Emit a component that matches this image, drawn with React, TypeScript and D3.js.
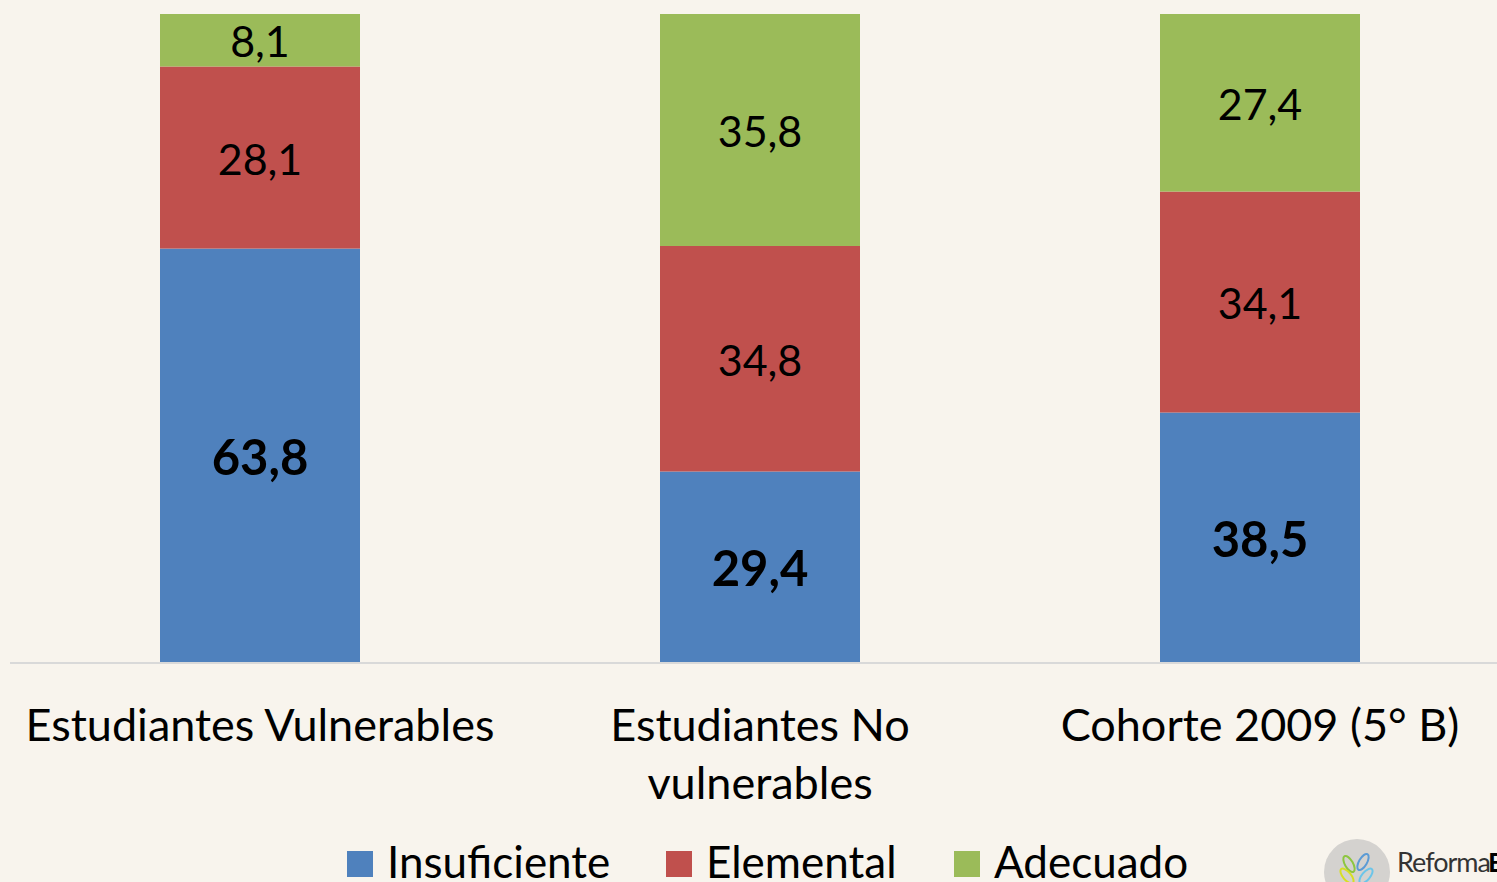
import { useEffect, useRef } from "react";
import * as d3 from "d3";

const categories = ["Estudiantes Vulnerables", "Estudiantes No vulnerables", "Cohorte 2009 (5° B)"];
const seriesNames = ["Insuficiente", "Elemental", "Adecuado"];
const insuficiente = [63.8, 29.4, 38.5];
const elemental = [28.1, 34.8, 34.1];
const adecuado = [8.1, 35.8, 27.4];
const colors = ["#4F81BD", "#C0504D", "#9BBB59"];

const FONT = "Lato, 'Open Sans', sans-serif";

export default function App() {
  const ref = useRef<SVGSVGElement>(null);

  useEffect(() => {
    document.body.style.margin = "0";
    if (!ref.current) return;
    const w = 1497,
      h = 882;
    const svg = d3.select(ref.current);
    svg.selectAll("*").remove();
    svg.attr("width", w).attr("height", h);

    svg.append("rect").attr("width", w).attr("height", h).attr("fill", "#F8F4ED");

    const rows = categories.map((c, i) => ({
      cat: c,
      Insuficiente: insuficiente[i],
      Elemental: elemental[i],
      Adecuado: adecuado[i],
    }));
    const stack = d3.stack<any>().keys(seriesNames)(rows);

    const x = d3.scaleBand().domain(categories).range([10, 1510]).paddingInner(0.6).paddingOuter(0.3);
    const y = d3.scaleLinear().domain([0, 100]).range([662, 14]);

    const g = svg.append("g");
    stack.forEach((layer, si) => {
      const lg = g.append("g");
      lg.selectAll("rect")
        .data(layer)
        .join("rect")
        .attr("x", (d: any) => x(d.data.cat)!)
        .attr("width", x.bandwidth())
        .attr("y", (d) => y(d[1]))
        .attr("height", (d) => y(d[0]) - y(d[1]))
        .attr("fill", colors[si]);
      lg.selectAll("text")
        .data(layer)
        .join("text")
        .attr("x", (d: any) => x(d.data.cat)! + x.bandwidth() / 2)
        .attr("y", (d) => (y(d[0]) + y(d[1])) / 2)
        .attr("dy", "0.4em")
        .attr("text-anchor", "middle")
        .attr("font-family", FONT)
        .attr("font-size", si === 0 ? 49 : 43)
        .attr("font-weight", si === 0 ? "bold" : "normal")
        .attr("fill", "#000")
        .text((d) => d3.format(".1f")(d[1] - d[0]).replace(".", ","));
    });

    // baseline
    svg.append("line")
      .attr("x1", 10).attr("x2", w)
      .attr("y1", y(0) + 1).attr("y2", y(0) + 1)
      .attr("stroke", "#D9D9D9").attr("stroke-width", 2);

    // category labels with wrapping
    categories.forEach((c) => {
      const cx = x(c)! + x.bandwidth() / 2;
      const t = svg.append("text")
        .attr("x", cx)
        .attr("y", 741)
        .attr("text-anchor", "middle")
        .attr("font-family", FONT)
        .attr("font-size", 45)
        .attr("fill", "#000");
      const words = c.split(" ");
      let line: string[] = [];
      let tspan = t.append("tspan").attr("x", cx).attr("dy", 0);
      words.forEach((word) => {
        line.push(word);
        tspan.text(line.join(" "));
        if ((tspan.node() as SVGTSpanElement).getComputedTextLength() > 480 && line.length > 1) {
          line.pop();
          tspan.text(line.join(" "));
          line = [word];
          tspan = t.append("tspan").attr("x", cx).attr("dy", 58).text(word);
        }
      });
    });

    // legend
    const legendX = [347, 666, 954];
    seriesNames.forEach((s, i) => {
      svg.append("rect")
        .attr("x", legendX[i]).attr("y", 851)
        .attr("width", 26).attr("height", 26)
        .attr("fill", colors[i]);
      svg.append("text")
        .attr("x", legendX[i] + 40).attr("y", 878)
        .attr("font-family", FONT)
        .attr("font-size", 44)
        .attr("fill", "#000")
        .text(s);
    });

    // logo
    const logo = svg.append("g");
    logo.append("circle").attr("cx", 1357).attr("cy", 872).attr("r", 33).attr("fill", "#D4D2CF");
    const leaves = [
      { dx: -8, dy: -8, r: -30, c: "#8DC63F" },
      { dx: 6, dy: -10, r: 30, c: "#5B9BD5" },
      { dx: -10, dy: 4, r: -40, c: "#D7DF23" },
      { dx: 9, dy: 4, r: 40, c: "#6CC5E9" },
    ];
    leaves.forEach((l) => {
      logo.append("ellipse")
        .attr("cx", 0).attr("cy", 0).attr("rx", 4).attr("ry", 9)
        .attr("fill", "none").attr("stroke", l.c).attr("stroke-width", 2)
        .attr("transform", `translate(${1357 + l.dx},${872 + l.dy}) rotate(${l.r})`);
    });
    logo.append("text")
      .attr("x", 1397).attr("y", 872)
      .attr("font-family", FONT)
      .attr("font-size", 27)
      .attr("fill", "#333")
      .attr("letter-spacing", -1)
      .text("Reforma");
    logo.append("text")
      .attr("x", 1488).attr("y", 872)
      .attr("font-family", FONT)
      .attr("font-size", 27)
      .attr("font-weight", "bold")
      .attr("fill", "#000")
      .text("E");
  }, []);

  return <svg ref={ref} style={{ display: "block" }} />;
}
